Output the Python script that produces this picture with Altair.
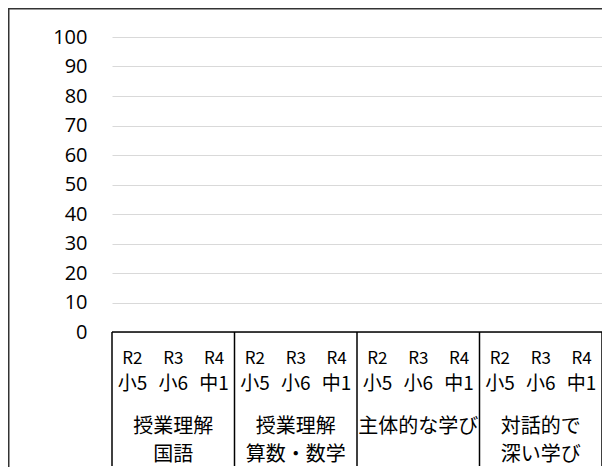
import altair as alt
import pandas as pd

# ---- data ----
y_ticks = [0, 10, 20, 30, 40, 50, 60, 70, 80, 90, 100]
group_line1 = ["授業理解", "授業理解", "主体的な学び", "対話的で"]
group_line2 = ["国語", "算数・数学", "", "深い学び"]
years = ["R2", "R3", "R4"]
grades = ["小5", "小6", "中1"]
group_bounds = [0, 3, 6, 9, 12]

W = 490
H = 295
JP = "Noto Sans CJK JP"

sub_rows = []
for g in range(len(group_line1)):
    for i in range(len(years)):
        sub_rows.append({"pos": g * 3 + i + 0.5, "year": years[i], "grade": grades[i]})
sub = pd.DataFrame(sub_rows)
grp = pd.DataFrame({
    "pos": [g * 3 + 1.5 for g in range(len(group_line1))],
    "l1": group_line1,
    "l2": group_line2,
})
bounds = pd.DataFrame({"b": group_bounds})
zero = pd.DataFrame({"v": [0]})
one = pd.DataFrame({"k": [1]})

xs = alt.Scale(domain=[0, 12], nice=False, zero=False)

# top of the table (the 0 line) carries the y axis and gridlines
base = alt.Chart(zero).mark_rule(color="#000", strokeWidth=1.5).encode(
    y=alt.Y("v:Q", scale=alt.Scale(domain=[0, 100], nice=False),
            axis=alt.Axis(values=y_ticks, grid=True, gridColor="#d9d9d9", gridWidth=1,
                          domain=False, ticks=False, labelFont="Open Sans",
                          labelFontSize=20, labelColor="#000", labelPadding=25,
                          title=None)),
    x=alt.value(0), x2=alt.value(W),
)

vlines = alt.Chart(bounds).mark_rule(color="#000", strokeWidth=1.5).encode(
    x=alt.X("b:Q", scale=xs, axis=None),
    y=alt.value(H), y2=alt.value(H + 134),
)

yr = alt.Chart(sub).mark_text(font=JP, fontSize=17, color="#000", baseline="middle").encode(
    x=alt.X("pos:Q", scale=xs, axis=None), y=alt.value(322), text="year:N")
gr = alt.Chart(sub).mark_text(font=JP, fontSize=19, color="#000", baseline="middle").encode(
    x=alt.X("pos:Q", scale=xs, axis=None), y=alt.value(347), text="grade:N")
g1 = alt.Chart(grp).mark_text(font=JP, fontSize=20, color="#000", baseline="middle").encode(
    x=alt.X("pos:Q", scale=xs, axis=None), y=alt.value(390), text="l1:N")
g2 = alt.Chart(grp).mark_text(font=JP, fontSize=20, color="#000", baseline="middle").encode(
    x=alt.X("pos:Q", scale=xs, axis=None), y=alt.value(418), text="l2:N")

border = alt.Chart(one).mark_rect(fill=None, stroke="#333", strokeWidth=1.5).encode(
    x=alt.value(-103.25), x2=alt.value(W + 40),
    y=alt.value(-28.25), y2=alt.value(H + 200),
)

chart = alt.layer(base, vlines, yr, gr, g1, g2, border).properties(
    width=W, height=H,
    autosize="none",
    padding={"left": 104, "top": 29, "right": 0, "bottom": 135},
    background="white",
).configure_view(stroke=None)

chart.save("out.html", embed_options={"renderer": "svg", "actions": False})
